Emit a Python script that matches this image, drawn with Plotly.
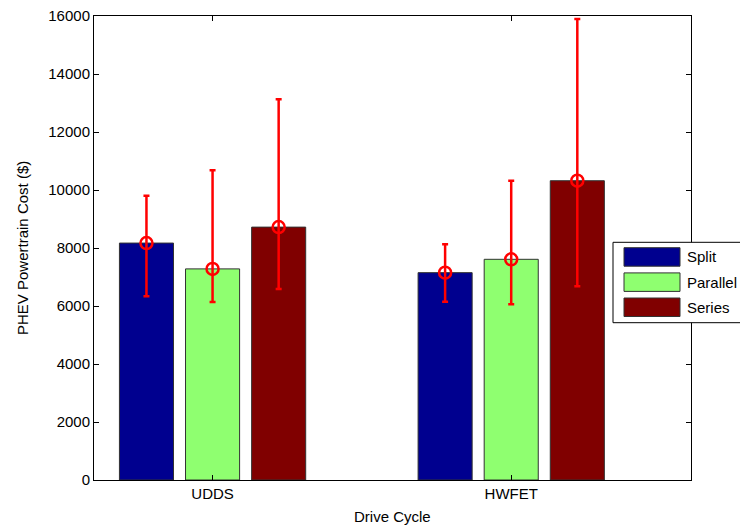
import numpy as np
import plotly.graph_objects as go

# ---------------- data ----------------
cycles = ["UDDS", "HWFET"]
series_names = ["Split", "Parallel", "Series"]
cost_split = [8170, 7150]
cost_parallel = [7280, 7610]
cost_series = [8720, 10320]
upper_split = [9800, 8130]
upper_parallel = [10680, 10320]
upper_series = [13130, 15900]
lower_split = [6340, 6150]
lower_parallel = [6140, 6060]
lower_series = [6590, 6680]
y_ticks = [0, 2000, 4000, 6000, 8000, 10000, 12000, 14000, 16000]

values = [cost_split, cost_parallel, cost_series]
uppers = [upper_split, upper_parallel, upper_series]
lowers = [lower_split, lower_parallel, lower_series]
colors = ["#00008F", "#8FFF70", "#800000"]

# ---------------- layout constants ----------------
BODY = 8                      # default page margin of the html body
W, H = 748 - BODY, 527 - BODY
ML, MR, MT, MB = 94 - BODY, 57, 16 - BODY, 47
PW, PH = W - ML - MR, H - MT - MB
BARGAP = 0.336
BARGROUPGAP = 0.182
FONT = "Liberation Sans, Arial, sans-serif"

xpos = np.arange(1, len(cycles) + 1)
slot = (1 - BARGAP) / len(series_names)
offsets = [(i - (len(series_names) - 1) / 2) * slot for i in range(len(series_names))]

fig = go.Figure()
for name, v, c in zip(series_names, values, colors):
    fig.add_trace(go.Bar(
        x=xpos, y=v, name=name, marker=dict(color=c, line=dict(color="rgb(50,50,50)", width=1)),
        showlegend=False, hoverinfo="y"))

for name, v, up, lo, off in zip(series_names, values, uppers, lowers, offsets):
    v = np.array(v); up = np.array(up); lo = np.array(lo)
    fig.add_trace(go.Scatter(
        x=xpos + off, y=v, mode="markers", showlegend=False,
        marker=dict(symbol="circle-open", size=12, color="red", line=dict(width=2.5, color="red")),
        error_y=dict(type="data", symmetric=False, array=up - v, arrayminus=v - lo,
                     color="red", thickness=2.5, width=3)))

fig.update_layout(
    width=W, height=H, margin=dict(l=ML, r=MR, t=MT, b=MB, pad=0, autoexpand=False),
    plot_bgcolor="white", paper_bgcolor="white",
    barmode="group", bargap=BARGAP, bargroupgap=BARGROUPGAP,
    font=dict(family=FONT, size=15, color="black"),
)
fig.update_xaxes(
    range=[0.603, 2.602], tickvals=list(xpos), ticktext=cycles,
    showline=True, linecolor="black", linewidth=1, mirror="ticks",
    ticks="inside", ticklen=5, tickcolor="black", showgrid=False, zeroline=False,
    tickfont=dict(size=15), automargin=False, ticklabeloverflow="allow",
)
fig.update_yaxes(
    range=[0, 16000], tickvals=y_ticks, ticktext=[str(t) for t in y_ticks],
    showline=True, linecolor="black", linewidth=1, mirror="ticks",
    ticks="inside", ticklen=5, tickcolor="black", showgrid=False, zeroline=False,
    tickfont=dict(size=15), automargin=False, ticklabeloverflow="allow",
)

# screen pixel -> paper coordinates
def px(x):
    return (x - BODY - ML) / PW

def py(y):
    return (H + BODY - MB - y) / PH

annotations = [
    dict(x=px(392), y=py(516), xref="paper", yref="paper", text="Drive Cycle",
         showarrow=False, xanchor="center", yanchor="middle", font=dict(size=15)),
    dict(x=px(22), y=py(248), xref="paper", yref="paper", text="PHEV Powertrain Cost ($)",
         showarrow=False, xanchor="center", yanchor="middle", textangle=-90, font=dict(size=15)),
]

# ---------------- legend (drawn as a MATLAB-style box) ----------------
shapes = [dict(type="rect", xref="paper", yref="paper", layer="above",
               x0=px(613), x1=px(746.5), y0=py(322.7), y1=py(242.3),
               fillcolor="white", line=dict(color="black", width=1))]
swatch_tops = [247.7, 272.9, 298.0]
for name, c, top in zip(series_names, colors, swatch_tops):
    shapes.append(dict(type="rect", xref="paper", yref="paper", layer="above",
                       x0=px(624), x1=px(680), y0=py(top + 18.5), y1=py(top),
                       fillcolor=c, line=dict(color="rgb(50,50,50)", width=1)))
    annotations.append(dict(x=px(685), y=py(top + 9.2), xref="paper", yref="paper",
                            text=name, showarrow=False, xanchor="left", yanchor="middle",
                            font=dict(size=15, color="black", family=FONT)))
fig.update_layout(shapes=shapes, annotations=annotations)

fig.write_html("out.html")
